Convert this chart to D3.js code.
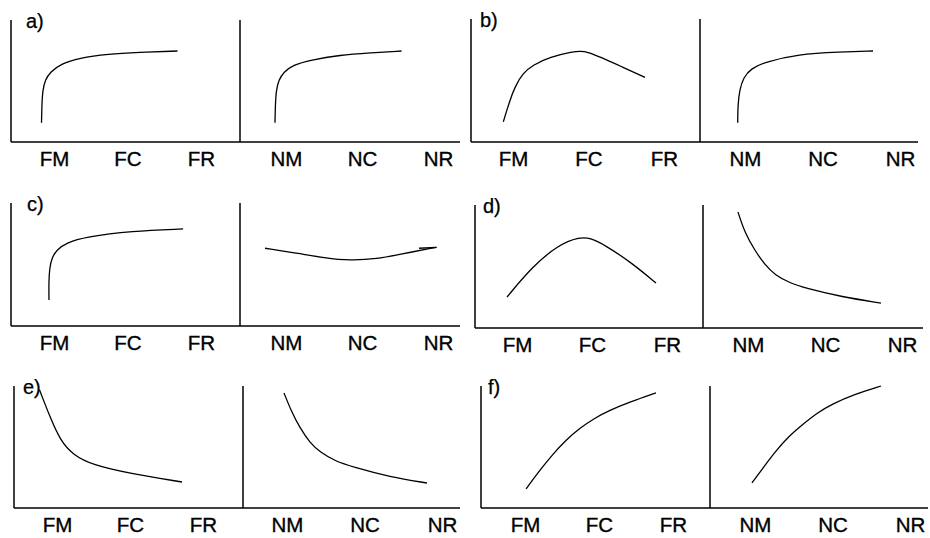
<!DOCTYPE html>
<html>
<head>
<meta charset="utf-8">
<script src="https://cdn.jsdelivr.net/npm/d3@7"></script>
<style>
  body { margin: 0; background: #fff; }
  svg { display: block; }
  .lbl text { font-family: "Liberation Sans", Arial, sans-serif; font-size: 20.5px; fill: #000; stroke: #000; stroke-width: 0.35px; }
  .tag { font-family: "Liberation Sans", Arial, sans-serif; font-size: 20px; fill: #000; stroke: #000; stroke-width: 0.25px; }
</style>
</head>
<body>
<div id="chart"></div>
<script>
// categories on the two halves of every panel
var leftCats = ["FM", "FC", "FR"],
    rightCats = ["NM", "NC", "NR"];
var panelTags = ["a)", "b)", "c)", "d)", "e)", "f)"];

// curves: [category position (0 = first, 2 = last), level 0..100]
var aLeft = [[-0.17, 15.8], [-0.165, 30], [-0.155, 42], [-0.12, 51], [-0.05, 57.4], [0.09, 63.9], [0.34, 68.9], [0.74, 72.1], [1.15, 73.4], [1.68, 74.6]];
var aRight = [[-0.145, 15.8], [-0.14, 30], [-0.13, 42], [-0.095, 51], [-0.03, 57.2], [0.09, 63.1], [0.32, 67.2], [0.71, 71.3], [1.11, 73.0], [1.52, 74.6]];
var bLeft = [[-0.128, 16.5], [-0.04, 34.1], [0.026, 45], [0.132, 56.1], [0.265, 62.6], [0.49, 69.1], [0.795, 73.5], [0.9, 73.9], [0.98, 73.3], [1.152, 69.3], [1.444, 61.1], [1.748, 52.6]];
var bRight = [[-0.094, 15.7], [-0.092, 30.1], [-0.07, 42.3], [-0.02, 52.5], [0.08, 59.8], [0.258, 65], [0.684, 71.5], [1.226, 73.2], [1.652, 74]];
var cLeft = [[-0.068, 21.1], [-0.071, 35.8], [-0.06, 47], [-0.03, 55.5], [0.04, 62], [0.162, 67.5], [0.432, 72.4], [1.054, 77.2], [1.757, 78.9]];
var cRight = [[-0.276, 63.2], [0.18, 58.8], [0.5, 55.5], [0.84, 53.1], [1.2, 54.5], [1.5, 58.3], [1.98, 64]];
var cHook = [[1.75, 63.2], [1.98, 64]];
var dLeft = [[-0.133, 25.2], [0.2, 49.6], [0.547, 67.5], [0.84, 74], [0.973, 73.2], [1.173, 67.5], [1.533, 52.8], [1.853, 36.6]];
var dRight = [[-0.13, 94.3], [-0.045, 78], [0.085, 63.4], [0.221, 51.2], [0.351, 43.1], [0.545, 36.6], [0.74, 32.5], [1.221, 25.2], [1.727, 20.3]];
var eLeft = [[-0.24, 97], [-0.17, 86], [-0.096, 74.8], [0.041, 55.7], [0.219, 43.4], [0.493, 35.2], [0.959, 28.7], [1.712, 21.3]];
var eRight = [[-0.039, 94.3], [0.06, 78.7], [0.16, 66.4], [0.297, 53.3], [0.426, 45.9], [0.619, 38.5], [0.852, 33.6], [1.329, 25.4], [1.806, 20.5]];
var fLeft = [[0.014, 15.6], [0.203, 31.1], [0.365, 43.4], [0.554, 55.7], [0.743, 65.6], [0.946, 73.8], [1.122, 79.5], [1.419, 86.9], [1.77, 94.3]];
var fRight = [[-0.039, 20.5], [0.103, 32.8], [0.258, 45.9], [0.426, 58.2], [0.606, 68], [0.8, 77.9], [0.994, 85.2], [1.29, 93.4], [1.626, 100]];

var leftCurves = [aLeft, bLeft, cLeft, dLeft, eLeft, fLeft];
var rightCurves = [[aRight], [bRight], [cRight, cHook], [dRight], [eRight], [fRight]];

// where each panel sits on the page
var layout = [
  {x0: 11,  top: 20,  bottom: 142, div: 240, right: 460, lx: [54, 201],  rx: [286, 438], base: 166, tagDx: 15},
  {x0: 471, top: 19,  bottom: 142, div: 700, right: 918, lx: [513, 664], rx: [745, 900], base: 166, tagDx: 9},
  {x0: 11,  top: 203, bottom: 326, div: 240, right: 460, lx: [54, 201],  rx: [286, 438], base: 350, tagDx: 16},
  {x0: 475, top: 205, bottom: 328, div: 703, right: 923, lx: [517, 667], rx: [748, 902], base: 352, tagDx: 8},
  {x0: 14,  top: 386, bottom: 508, div: 243, right: 460, lx: [57, 203],  rx: [287, 442], base: 532, tagDx: 9},
  {x0: 481, top: 386, bottom: 508, div: 710, right: 928, lx: [525, 673], rx: [755, 910], base: 532, tagDx: 7}
];

var width = 930, height = 538;

var svg = d3.select('#chart').append('svg')
    .attr('width', width)
    .attr('height', height);

layout.forEach(function (p, i) {
  var g = svg.append('g');
  var y = d3.scaleLinear().domain([0, 100]).range([p.bottom, p.top]);
  var xl = d3.scaleLinear().domain([0, 2]).range(p.lx);
  var xr = d3.scaleLinear().domain([0, 2]).range(p.rx);
  var pl = d3.scalePoint().domain(leftCats).range(p.lx);
  var pr = d3.scalePoint().domain(rightCats).range(p.rx);

  // frame: left axis, bottom axis, divider
  g.append('line').attr('x1', p.x0).attr('x2', p.x0).attr('y1', y(100)).attr('y2', y(0))
      .attr('stroke', '#000').attr('stroke-width', 1.5);
  g.append('line').attr('x1', p.x0).attr('x2', p.right).attr('y1', y(0)).attr('y2', y(0))
      .attr('stroke', '#000').attr('stroke-width', 1.5);
  g.append('line').attr('x1', p.div).attr('x2', p.div).attr('y1', y(100)).attr('y2', y(0))
      .attr('stroke', '#000').attr('stroke-width', 1.5);

  // category labels
  [pl, pr].forEach(function (s) {
    var ax = g.append('g').attr('class', 'lbl')
        .attr('transform', 'translate(0,' + (p.base - 15) + ')')
        .call(d3.axisBottom(s).tickSize(0).tickPadding(0));
    ax.select('.domain').remove();
    ax.selectAll('text').attr('dy', '0.72em');
    ax.attr('font-family', null).attr('font-size', null);
  });

  g.append('text').attr('class', 'tag')
      .attr('x', p.x0 + p.tagDx).attr('y', p.top + 8)
      .text(panelTags[i]);

  var lineL = d3.line().x(function (d) { return xl(d[0]); }).y(function (d) { return y(d[1]); })
      .curve(d3.curveBasis);
  var lineR = d3.line().x(function (d) { return xr(d[0]); }).y(function (d) { return y(d[1]); })
      .curve(d3.curveBasis);

  g.append('path').datum(leftCurves[i]).attr('d', lineL)
      .attr('fill', 'none').attr('stroke', '#000').attr('stroke-width', 1.3);
  rightCurves[i].forEach(function (c) {
    g.append('path').datum(c).attr('d', lineR)
        .attr('fill', 'none').attr('stroke', '#000').attr('stroke-width', 1.3);
  });
});
</script>
</body>
</html>
